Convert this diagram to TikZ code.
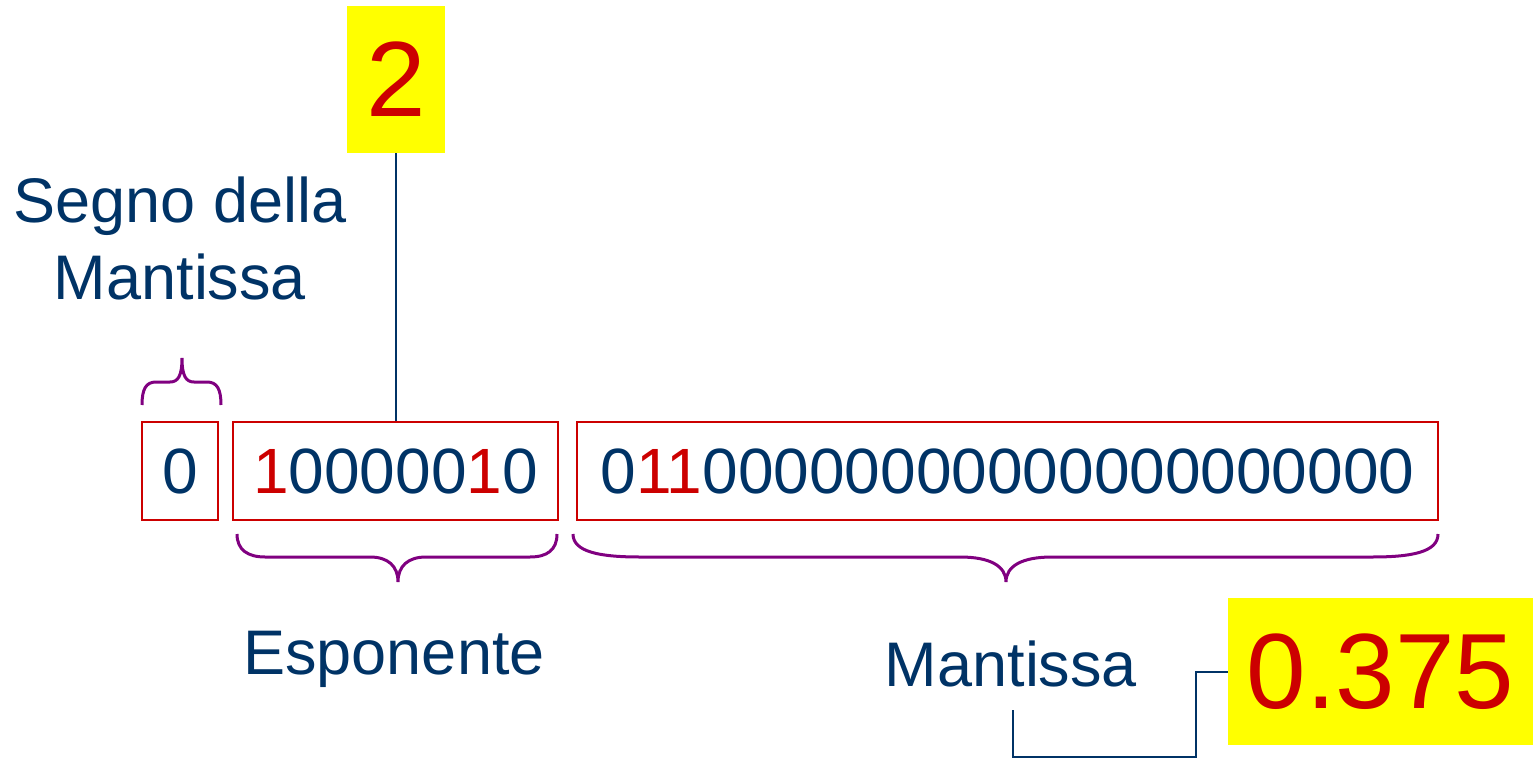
\documentclass[tikz,border=0pt]{standalone}
\usepackage{fontspec}
\setmainfont{Liberation Sans}
\definecolor{navy}{RGB}{0,51,102}
\definecolor{bitred}{RGB}{204,0,0}
\definecolor{brpurple}{RGB}{128,0,128}
\definecolor{hiyellow}{RGB}{255,255,0}
\begin{document}
\begin{tikzpicture}[x=1pt,y=-1pt,
  bitbox/.style={draw=bitred,line width=2pt,inner sep=0pt,text=navy,
    font=\fontsize{64}{70}\selectfont},
  lbl/.style={text=navy,inner sep=0pt,anchor=base,font=\fontsize{63}{70}\selectfont},
  hilite/.style={fill=hiyellow,inner sep=0pt,text=bitred,font=\fontsize{107}{110}\selectfont},
  brace/.style={draw=brpurple,line width=3pt},
  conn/.style={draw=navy,line width=2pt}]
\useasboundingbox (0,0) rectangle (1534,760);
% bit boxes
\node[bitbox,minimum width=76pt,minimum height=98pt] (sign) at (180,471) {0};
\node[bitbox,minimum width=325pt,minimum height=98pt] (expbox) at (395.5,471)
  {\textcolor{bitred}{1}00000\textcolor{bitred}{1}0};
\node[bitbox,minimum width=861pt,minimum height=98pt] (manbox) at (1007.5,471)
  {0\textcolor{bitred}{11}00000000000000000000\hspace{8pt}};
% labels
\node[lbl] (segno1) at (180,222) {Segno della};
\node[lbl] (segno2) at (180,299) {Mantissa};
\node[lbl] (esp) at (394,674) {Esponente};
\node[lbl] (mlab) at (1011,686) {Mantissa};
% highlighted values
\node[hilite,minimum width=98pt,minimum height=147pt] (two) at (396,79.5) {2};
\node[hilite,minimum width=305pt,minimum height=147pt] (res) at (1380.5,671.5) {0.375};
% connectors
\draw[conn] (two.south) -- (two.south |- expbox.north);
\coordinate (c1) at (1013,710);
\coordinate (c2) at (1196,757);
\draw[conn] (c1) |- (c2) |- (res.west);
% braces
\draw[brace] (142,405) .. controls (142,389) and (146,382) .. (156,382) -- (170,382)
  .. controls (178,382) and (182,376) .. (182,358)
  .. controls (182,376) and (186,382) .. (194,382) -- (207,382)
  .. controls (217,382) and (221,389) .. (221,405);
\draw[brace] (237,534) .. controls (237,550) and (248,557) .. (265,557) -- (370,557)
  .. controls (388,557) and (398,566) .. (398,582)
  .. controls (398,566) and (408,557) .. (426,557) -- (530,557)
  .. controls (547,557) and (557,550) .. (557,534);
\draw[brace] (573,534) .. controls (573,552) and (600,557) .. (640,557) -- (960,557)
  .. controls (990,557) and (1006,566) .. (1006,582)
  .. controls (1006,566) and (1022,557) .. (1052,557) -- (1372,557)
  .. controls (1412,557) and (1438,552) .. (1438,534);
\end{tikzpicture}
\end{document}
